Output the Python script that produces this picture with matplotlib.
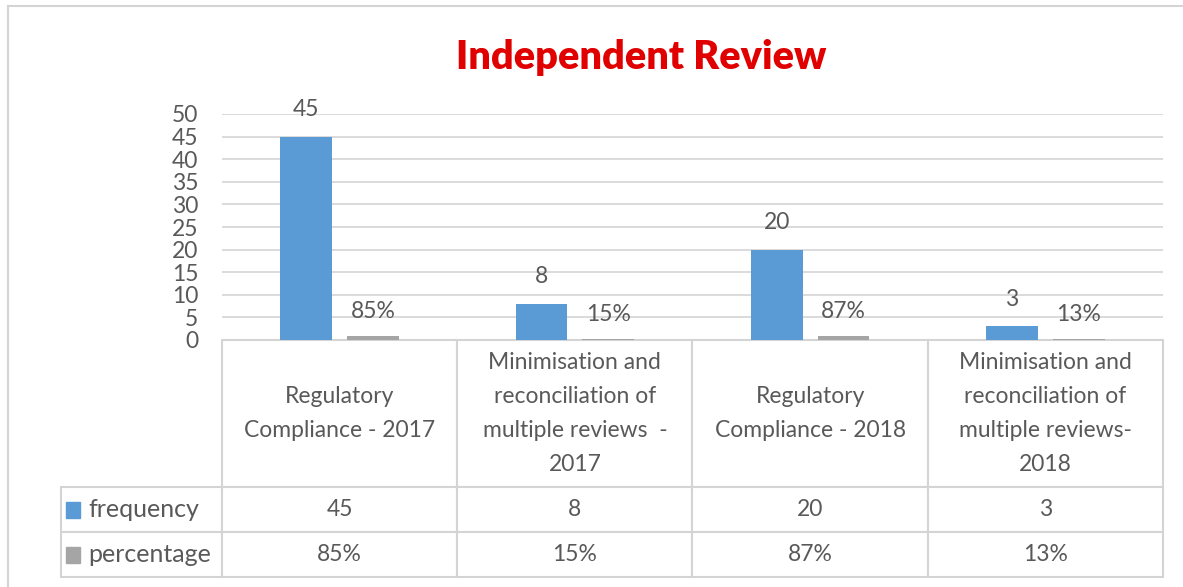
import matplotlib.pyplot as plt
from matplotlib.lines import Line2D
from matplotlib.patches import Rectangle

categories = [
    "Regulatory\nCompliance - 2017",
    "Minimisation and\nreconciliation of\nmultiple reviews  -\n2017",
    "Regulatory\nCompliance - 2018",
    "Minimisation and\nreconciliation of\nmultiple reviews-\n2018",
]
series_names = ["frequency", "percentage"]
frequency = [45, 8, 20, 3]
percentage = [0.85, 0.15, 0.87, 0.13]
yticks = [0, 5, 10, 15, 20, 25, 30, 35, 40, 45, 50]

BLUE = "#5B9BD5"
GREY = "#A5A5A5"
TEXT = "#595959"
LINE = "#D4D4D4"
FONT = "Lato"
FS = 16.5

W, H = 1183, 587
fig = plt.figure(figsize=(W / 100, H / 100), dpi=100)
plt.rcParams["font.family"] = [FONT, "DejaVu Sans"]


def fx(px):
    return px / W


def fy(py):
    return 1 - py / H


# plot area in pixels
left, right, top, bottom = 222, 1163, 114, 340
ax = fig.add_axes([fx(left), fy(bottom), fx(right - left), fy(top) - fy(bottom)])

x = list(range(len(categories)))
width = 0.22
off = 0.142
b1 = ax.bar([i - off for i in x], frequency, width, color=BLUE, zorder=3)
b2 = ax.bar([i + off for i in x], percentage, width, color=GREY, zorder=3)

for rect, v in zip(b1, frequency):
    ax.annotate(str(v), (rect.get_x() + rect.get_width() / 2, rect.get_height()),
                xytext=(0, 15), textcoords="offset points", ha="center", va="baseline",
                fontsize=FS, color=TEXT, annotation_clip=False)
for rect, v in zip(b2, percentage):
    ax.annotate(f"{round(v * 100)}%", (rect.get_x() + rect.get_width() / 2, rect.get_height()),
                xytext=(0, 13), textcoords="offset points", ha="center", va="baseline",
                fontsize=FS, color=TEXT, annotation_clip=False)

ax.set_xlim(-0.5, len(categories) - 0.5)
ax.set_ylim(0, 50)
ax.set_yticks(yticks)
ax.tick_params(axis="y", length=0, pad=17, labelsize=FS, labelcolor=TEXT)
ax.set_xticks([])
ax.grid(axis="y", color=LINE, linewidth=1.2, zorder=0)
for s in ax.spines.values():
    s.set_visible(False)

# data table under the plot
col_w = (right - left) / len(categories)
tab_left = 61
label_w = left - tab_left
cell_text = [[""] + categories,
             ["frequency"] + [str(v) for v in frequency],
             ["percentage"] + [f"{round(v * 100)}%" for v in percentage]]
tab_h = 577 - bottom
tbl = ax.table(cellText=cell_text, cellLoc="center",
               colWidths=[label_w] + [col_w] * len(categories),
               bbox=[-label_w / (right - left), -tab_h / (bottom - top),
                     (right - tab_left) / (right - left), tab_h / (bottom - top)])
tbl.auto_set_font_size(False)
row_h = [147, 45, 45]
for (r, c), cell in tbl.get_celld().items():
    cell.set_height(row_h[r])
    cell.set_edgecolor(LINE)
    cell.set_linewidth(1.5)
    cell.set_clip_on(False)
    cell.get_text().set_fontsize(FS)
    cell.get_text().set_color(TEXT)
    cell.get_text().set_linespacing(1.76)
    if r == 0 and c == 0:
        cell.visible_edges = ""
    if c == 0 and r > 0:
        cell.get_text().set_ha("left")
        cell.get_text().set_fontsize(18)
        cell.PAD = 0.17

# legend keys in the row-label cells
for r, color in zip([1, 2], [BLUE, GREY]):
    y0 = 487 + 45 * (r - 1) + 15
    fig.patches.append(Rectangle((fx(66), fy(y0 + 16)), fx(14), fy(y0) - fy(y0 + 16),
                                 transform=fig.transFigure, color=color, figure=fig))

fig.text(fx(641), fy(58), "Independent Review", ha="center", va="center",
         fontsize=28.5, fontweight="heavy", color="#E00000")

# chart frame
fig.add_artist(Line2D([fx(8), 1], [fy(6), fy(6)], color=LINE, lw=1.5))
fig.add_artist(Line2D([fx(8), fx(8)], [0, fy(6)], color=LINE, lw=1.5))

fig.savefig("out.png", dpi=100, facecolor="white")
